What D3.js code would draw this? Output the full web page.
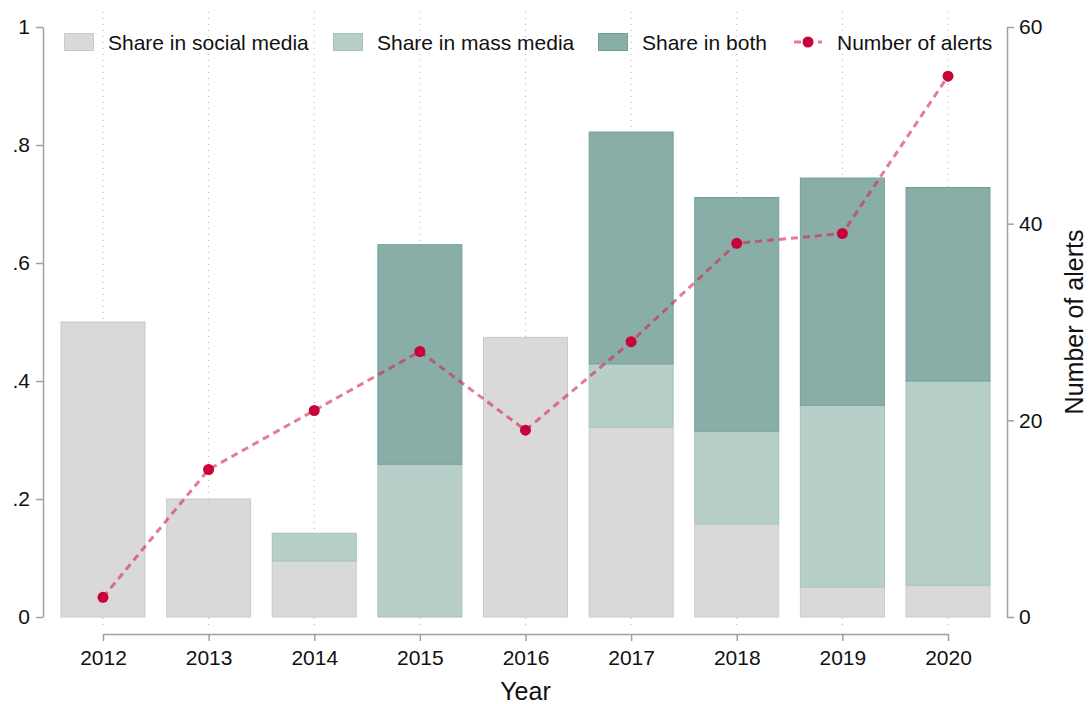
<!DOCTYPE html>
<html>
<head>
<meta charset="utf-8">
<script src="https://cdn.jsdelivr.net/npm/d3@7"></script>
<style>
  body { margin: 0; background: #fff; }
  svg { display: block; font-family: 'Liberation Sans', Arial, sans-serif; }
</style>
</head>
<body>
<svg id="chart" width="1091" height="704"></svg>
<script>
const years = [2012, 2013, 2014, 2015, 2016, 2017, 2018, 2019, 2020];
const shareSocial = [0.5, 0.2, 0.095, 0, 0.474, 0.322, 0.158, 0.051, 0.054];
const shareMass = [0, 0, 0.047, 0.259, 0, 0.107, 0.157, 0.308, 0.346];
const shareBoth = [0, 0, 0, 0.372, 0, 0.393, 0.396, 0.385, 0.328];
const alerts = [2, 15, 21, 27, 19, 28, 38, 39, 55];
const leftTicks = [0, 0.2, 0.4, 0.6, 0.8, 1];
const leftTickLabels = ['0', '.2', '.4', '.6', '.8', '1'];
const rightTicks = [0, 20, 40, 60];

const svg = d3.select('#chart');

const x = d3.scaleLinear().domain([2012, 2020]).range([103, 948]);
const y = d3.scaleLinear().domain([0, 1]).range([617, 27]);
const yR = d3.scaleLinear().domain([0, 60]).range([617, 27]);
const barWidth = 84;

const axisColour = '#a0a0a0';
const fontSize = 21;

// grid lines
svg.append('g')
	.selectAll('line')
	.data(years)
	.enter().append('line')
	.attr('x1', d => x(d))
	.attr('x2', d => x(d))
	.attr('y1', 12)
	.attr('y2', 628)
	.attr('stroke', '#b4b4b4')
	.attr('stroke-width', 1)
	.attr('stroke-dasharray', '1,5');

// stacked bars
const layers = [
	{ key: 'social', values: shareSocial, fill: '#d9d9d9', stroke: '#cacaca' },
	{ key: 'mass', values: shareMass, fill: '#b8cec8', stroke: '#a5c2ba' },
	{ key: 'both', values: shareBoth, fill: '#89aea8', stroke: '#72a098' }
];

const rows = years.map((yr, i) => ({ year: yr, social: shareSocial[i], mass: shareMass[i], both: shareBoth[i] }));
const stack = d3.stack().keys(layers.map(l => l.key));
const stacked = stack(rows);

const barGroup = svg.append('g');
stacked.forEach((series, li) => {
	barGroup.append('g')
		.selectAll('rect')
		.data(series.filter(d => d[1] - d[0] > 0))
		.enter().append('rect')
		.attr('x', d => x(d.data.year) - barWidth / 2)
		.attr('width', barWidth)
		.attr('y', d => y(d[1]))
		.attr('height', d => y(d[0]) - y(d[1]))
		.attr('fill', layers[li].fill)
		.attr('stroke', layers[li].stroke)
		.attr('stroke-width', 1);
});

// alerts line
const line = d3.line()
	.x((d, i) => x(years[i]))
	.y(d => yR(d));

svg.append('path')
	.datum(alerts)
	.attr('d', line)
	.attr('fill', 'none')
	.attr('stroke', '#d3244f')
	.attr('stroke-opacity', 0.6)
	.attr('stroke-width', 3)
	.attr('stroke-dasharray', '7,5');

svg.append('g')
	.selectAll('circle')
	.data(alerts)
	.enter().append('circle')
	.attr('cx', (d, i) => x(years[i]))
	.attr('cy', d => yR(d))
	.attr('r', 5.5)
	.attr('fill', '#c8023a');

// left axis
const leftAxis = d3.axisLeft(y)
	.tickValues(leftTicks)
	.tickFormat((d, i) => leftTickLabels[i])
	.tickSize(7)
	.tickSizeOuter(0)
	.tickPadding(6);
const gL = svg.append('g').attr('transform', 'translate(43,0)').call(leftAxis);

// right axis
const rightAxis = d3.axisRight(yR)
	.tickValues(rightTicks)
	.tickSize(7)
	.tickSizeOuter(0)
	.tickPadding(5);
const gR = svg.append('g').attr('transform', 'translate(1007,0)').call(rightAxis);

// bottom axis
const bottomAxis = d3.axisBottom(x)
	.tickValues(years)
	.tickFormat(d3.format('d'))
	.tickSize(7)
	.tickSizeOuter(0)
	.tickPadding(9);
const gB = svg.append('g').attr('transform', 'translate(0,634)').call(bottomAxis);

[gL, gR, gB].forEach(g => {
	g.select('.domain').attr('stroke', axisColour).attr('stroke-width', 1.5);
	g.selectAll('.tick line').attr('stroke', axisColour).attr('stroke-width', 1.5);
	g.selectAll('.tick text')
		.attr('fill', '#111')
		.style('font-size', fontSize + 'px')
		.style('font-family', "'Liberation Sans', Arial, sans-serif");
});

// axis titles
svg.append('text')
	.attr('x', x(2016))
	.attr('y', 700)
	.attr('text-anchor', 'middle')
	.attr('fill', '#111')
	.style('font-size', '25px')
	.text('Year');

svg.append('text')
	.attr('transform', 'translate(1083,322) rotate(-90)')
	.attr('text-anchor', 'middle')
	.attr('fill', '#111')
	.style('font-size', '25px')
	.text('Number of alerts');

// legend
const legendItems = [
	{ label: 'Share in social media', type: 'rect', fill: layers[0].fill, stroke: layers[0].stroke, x: 64 },
	{ label: 'Share in mass media', type: 'rect', fill: layers[1].fill, stroke: layers[1].stroke, x: 333 },
	{ label: 'Share in both', type: 'rect', fill: layers[2].fill, stroke: layers[2].stroke, x: 598 },
	{ label: 'Number of alerts', type: 'line', x: 794 }
];

const legend = svg.append('g');
legendItems.forEach(item => {
	const g = legend.append('g').attr('transform', `translate(${item.x},42)`);
	if (item.type === 'rect') {
		g.append('rect')
			.attr('x', 0.5)
			.attr('y', -8.5)
			.attr('width', 29)
			.attr('height', 17)
			.attr('fill', item.fill)
			.attr('stroke', item.stroke);
	} else {
		g.append('line')
			.attr('x1', 0)
			.attr('x2', 28)
			.attr('y1', 0)
			.attr('y2', 0)
			.attr('stroke', '#d3244f')
			.attr('stroke-opacity', 0.6)
			.attr('stroke-width', 3)
			.attr('stroke-dasharray', '7,5');
		g.append('circle')
			.attr('cx', 14)
			.attr('cy', 0)
			.attr('r', 5.5)
			.attr('fill', '#c8023a');
	}
	g.append('text')
		.attr('x', item.type === 'rect' ? 44 : 43)
		.attr('y', 7.5)
		.attr('fill', '#111')
		.style('font-size', fontSize + 'px')
		.text(item.label);
});
</script>
</body>
</html>
